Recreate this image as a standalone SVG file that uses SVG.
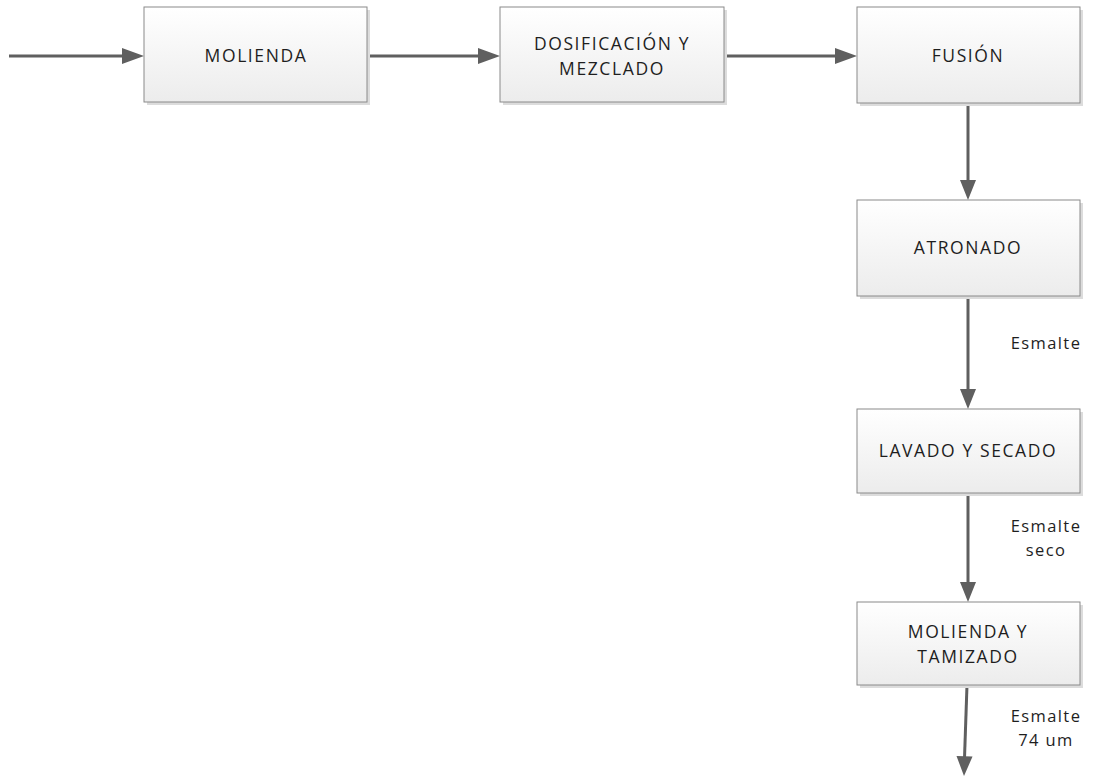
<svg xmlns="http://www.w3.org/2000/svg" width="1093" height="778" viewBox="0 0 1093 778">
<defs>
<linearGradient id="g" x1="0" y1="0" x2="0" y2="1"><stop offset="0" stop-color="#ffffff"/><stop offset="1" stop-color="#ececec"/></linearGradient>
</defs>
<style>
.box{fill:url(#g);stroke:#8a8a8a;stroke-width:1}
.sh{fill:#dcdcdc}
.t{font-family:"Open Sans","Liberation Sans",sans-serif;font-size:17.5px;fill:#1e1e1e;text-anchor:middle;letter-spacing:1.6px}
.l{font-family:"Open Sans","Liberation Sans",sans-serif;font-size:16.5px;fill:#1e1e1e;text-anchor:middle;letter-spacing:1.4px}
.c{stroke:#5f5f5f;stroke-width:3;fill:none}
.a{fill:#5f5f5f}
</style>
<g id="connectors">
<line class="c" x1="9" y1="56" x2="124" y2="56"/><path class="a" d="M122,48 L144,56 L122,64 Z"/>
<line class="c" x1="367" y1="56" x2="480" y2="56"/><path class="a" d="M478,48 L500,56 L478,64 Z"/>
<line class="c" x1="724" y1="56" x2="837" y2="56"/><path class="a" d="M835,48 L857,56 L835,64 Z"/>
<line class="c" x1="968" y1="103" x2="968" y2="182"/><path class="a" d="M960,180 L968,200 L976,180 Z"/>
<line class="c" x1="968" y1="296" x2="968" y2="391"/><path class="a" d="M960,389 L968,409 L976,389 Z"/>
<line class="c" x1="968" y1="493" x2="968" y2="584"/><path class="a" d="M960,582 L968,602 L976,582 Z"/>
<line class="c" x1="967" y1="685" x2="964.5" y2="758"/><path class="a" d="M956.5,756 L964,776 L972.5,756.5 Z"/>
</g>
<g id="molienda"><rect class="sh" x="147" y="10" width="223" height="95"/><rect class="box" x="144" y="7" width="223" height="95"/><text class="t" x="256" y="62">MOLIENDA</text></g>
<g id="dosificacion"><rect class="sh" x="503" y="10" width="224" height="95"/><rect class="box" x="500" y="7" width="224" height="95"/><text class="t" x="612" y="50">DOSIFICACIÓN Y</text><text class="t" x="612" y="75">MEZCLADO</text></g>
<g id="fusion"><rect class="sh" x="860" y="10" width="223" height="96"/><rect class="box" x="857" y="7" width="223" height="96"/><text class="t" x="968" y="62">FUSIÓN</text></g>
<g id="atronado"><rect class="sh" x="860" y="203" width="223" height="96"/><rect class="box" x="857" y="200" width="223" height="96"/><text class="t" x="968" y="254">ATRONADO</text></g>
<g id="lavado"><rect class="sh" x="860" y="412" width="223" height="84"/><rect class="box" x="857" y="409" width="223" height="84"/><text class="t" x="968" y="457">LAVADO Y SECADO</text></g>
<g id="molienda_tamizado"><rect class="sh" x="860" y="605" width="223" height="83"/><rect class="box" x="857" y="602" width="223" height="83"/><text class="t" x="968" y="638">MOLIENDA Y</text><text class="t" x="968" y="663">TAMIZADO</text></g>
<g id="labels">
<text class="l" x="1046" y="349">Esmalte</text>
<text class="l" x="1046" y="532">Esmalte</text><text class="l" x="1046" y="556">seco</text>
<text class="l" x="1046" y="722">Esmalte</text><text class="l" x="1046" y="746">74 um</text>
</g>
</svg>
